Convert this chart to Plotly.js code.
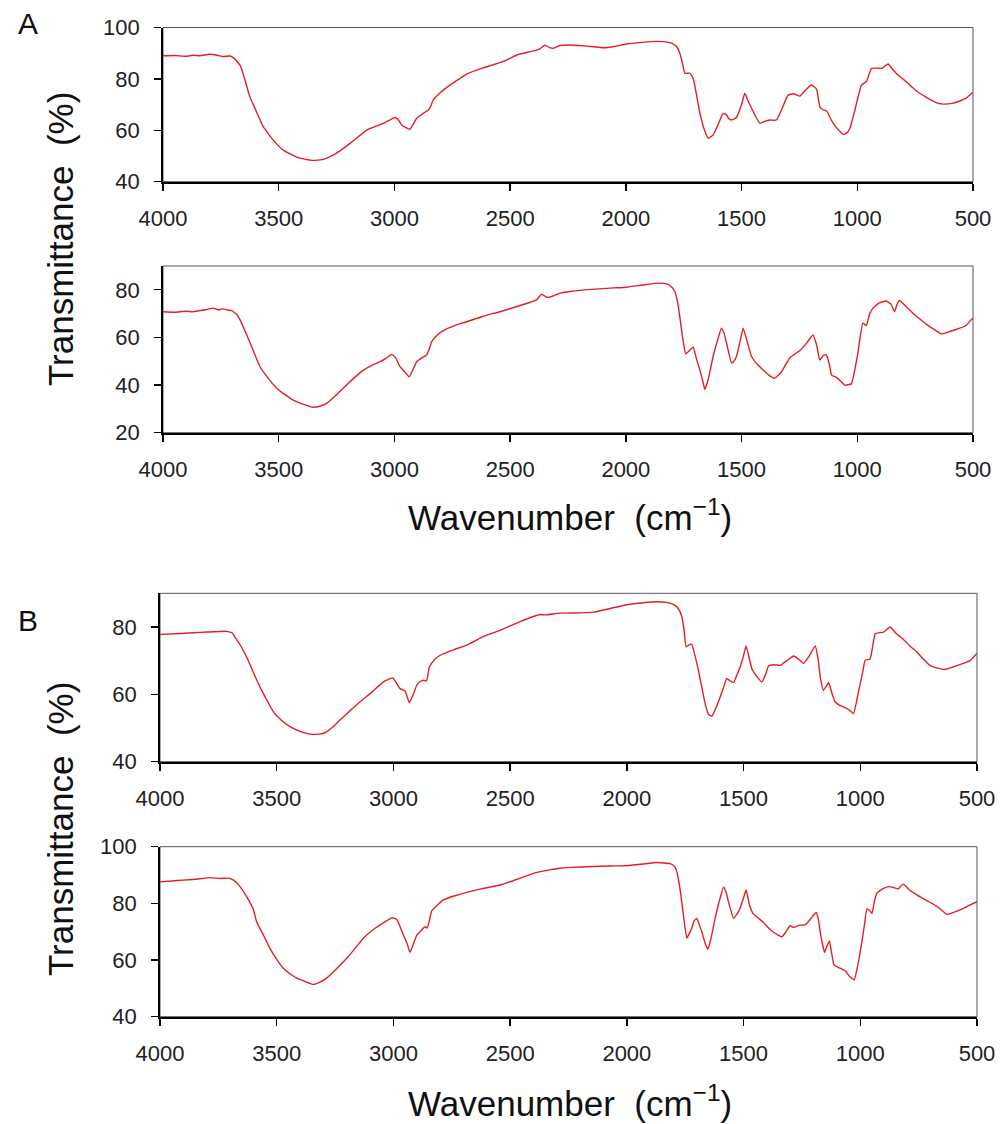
<!DOCTYPE html>
<html>
<head>
<meta charset="utf-8">
<script src="https://cdn.plot.ly/plotly-3.0.1.min.js"></script>
<style>html,body{margin:0;padding:0;background:#fff;}#chart{width:1006px;height:1124px;}</style>
</head>
<body>
<div id="chart"></div>
<script>
// ---------- data ----------
const wnA1 = [4000,3950,3900,3870,3840,3800,3770,3740,3710,3690,3665,3650,3625,3600,3567,3520,3480,3420,3365,3320,3279,3235,3192,3155,3120,3080,3048,3020,2998,2985,2969,2950,2933,2918,2904,2880,2854,2845,2832,2800,2760,2720,2688,2620,2544,2500,2472,2420,2386,2370,2350,2330,2314,2285,2242,2200,2140,2098,2050,1997,1930,1867,1820,1796,1780,1767,1755,1745,1723,1709,1695,1680,1660,1644,1623,1600,1580,1565,1555,1543,1522,1500,1486,1470,1457,1440,1421,1400,1378,1349,1325,1299,1275,1248,1225,1198,1176,1162,1148,1133,1118,1104,1080,1061,1045,1032,1010,982,960,939,915,895,867,845,824,800,773,740,701,660,629,590,557,530,506,500];
const tA1 = [89.0,89.1,88.8,89.2,89.0,89.6,89.3,88.7,88.9,87.8,85.0,80.9,73.1,68.0,61.4,55.8,52.3,49.5,48.4,48.5,49.7,52.0,54.9,57.6,60.1,61.6,62.7,64.0,65.0,64.3,62.1,61.0,60.4,62.5,64.7,66.3,67.9,69.0,71.8,74.8,77.6,80.0,81.9,84.2,86.3,88.0,89.3,90.5,91.2,91.8,93.1,92.2,91.9,93.0,93.2,93.0,92.5,92.1,92.6,93.6,94.2,94.6,94.3,93.6,92.5,90.0,86.0,82.2,82.2,80.2,74.0,66.6,60.0,56.9,58.2,62.5,66.6,66.0,64.5,64.0,65.0,70.0,74.4,71.0,68.6,65.5,62.7,63.5,64.0,64.0,68.5,73.7,74.2,73.3,75.5,77.6,76.0,69.2,68.0,67.6,65.0,62.7,60.0,58.4,59.0,60.8,68.0,77.6,79.0,84.1,84.2,84.1,85.8,83.5,81.5,79.8,77.6,75.0,72.8,70.8,70.2,70.5,71.4,72.5,74.4,74.6];

const wnA2 = [4000,3950,3900,3869,3830,3783,3760,3740,3720,3703,3680,3667,3638,3610,3581,3545,3509,3470,3437,3390,3350,3320,3292,3255,3221,3180,3134,3100,3062,3035,3012,2995,2976,2955,2936,2920,2904,2880,2861,2850,2839,2815,2789,2740,2688,2620,2544,2460,2386,2364,2345,2328,2285,2249,2150,2050,1997,1930,1867,1824,1800,1788,1777,1767,1755,1741,1725,1709,1695,1680,1665,1659,1645,1623,1605,1587,1575,1565,1543,1530,1522,1505,1493,1475,1457,1430,1407,1380,1356,1328,1310,1291,1270,1248,1220,1191,1175,1162,1145,1133,1120,1111,1090,1070,1054,1026,1000,976,961,946,932,905,875,855,839,828,817,790,760,730,701,670,637,600,557,530,506,500];
const tA2 = [70.8,70.6,71.0,70.8,71.4,72.3,71.6,72.0,71.5,71.3,69.5,67.4,61.0,54.5,47.7,42.8,38.7,35.8,33.7,31.8,30.7,31.2,32.4,35.5,38.7,42.5,46.3,48.2,49.8,51.3,52.9,51.5,47.7,45.5,43.5,46.5,49.8,51.5,52.6,55.0,58.2,61.0,62.9,65.0,66.6,68.8,70.8,73.3,75.8,78.2,77.0,76.9,78.6,79.2,80.2,80.8,81.1,82.0,82.8,82.5,81.0,79.2,75.0,68.7,60.0,53.1,54.5,55.9,51.0,46.3,40.5,38.2,42.0,52.0,58.5,63.9,61.5,57.6,49.2,50.5,52.0,59.0,63.9,58.0,52.0,48.5,46.3,44.0,42.9,45.5,48.5,51.5,53.0,54.5,57.5,61.0,56.5,50.5,52.6,52.6,48.5,44.2,43.2,41.5,40.0,40.5,52.0,66.0,65.0,70.0,72.3,74.5,75.3,74.0,70.8,74.0,75.5,73.0,70.2,67.8,65.5,63.5,61.5,62.5,63.9,65.0,67.6,68.0];

const wnB1 = [4000,3930,3857,3800,3714,3690,3679,3655,3629,3600,3572,3540,3514,3480,3443,3400,3357,3320,3293,3260,3229,3185,3143,3090,3043,3020,3003,2988,2972,2950,2932,2915,2900,2885,2872,2858,2846,2825,2800,2740,2686,2620,2543,2460,2372,2350,2286,2200,2143,2070,2000,1930,1872,1830,1800,1780,1764,1755,1746,1735,1722,1710,1700,1680,1665,1650,1636,1618,1600,1586,1572,1558,1543,1530,1515,1500,1489,1475,1465,1445,1422,1405,1393,1370,1343,1315,1286,1265,1243,1218,1193,1180,1170,1158,1145,1136,1120,1108,1090,1072,1050,1029,1010,990,979,958,945,936,900,872,845,815,790,758,730,700,670,636,600,558,530,504,500];
const tB1 = [77.8,78.0,78.3,78.5,78.7,78.2,77.0,74.5,71.1,66.5,62.2,58.0,54.8,52.3,50.4,49.0,48.2,48.2,48.6,50.3,52.4,55.2,57.8,60.8,63.7,64.5,64.9,63.5,61.7,61.0,57.5,60.0,62.7,63.8,64.2,64.0,68.1,70.2,71.6,73.3,74.6,77.0,79.0,81.5,83.7,83.6,84.1,84.2,84.4,85.5,86.6,87.2,87.5,87.3,86.7,85.5,83.0,79.0,74.1,74.6,74.9,72.0,69.2,62.5,57.3,54.0,53.5,56.0,59.3,62.0,64.7,64.0,63.5,65.5,68.1,71.5,74.4,70.5,67.7,65.5,63.7,66.0,68.4,68.8,68.6,70.0,71.4,70.5,69.2,71.5,74.4,70.0,64.5,61.2,62.5,63.5,60.0,57.8,56.8,56.3,55.5,54.3,60.0,66.5,70.1,70.5,75.0,78.0,78.5,80.0,78.0,76.3,74.5,72.6,70.5,68.5,67.8,67.4,68.2,69.2,70.0,71.9,72.0];

const wnB2 = [4000,3950,3900,3850,3786,3740,3707,3685,3665,3629,3600,3586,3555,3529,3500,3472,3440,3414,3380,3343,3315,3286,3250,3214,3170,3129,3090,3057,3030,3007,2986,2970,2957,2940,2929,2915,2900,2880,2865,2855,2846,2836,2810,2786,2740,2686,2620,2543,2470,2400,2330,2286,2243,2150,2070,2000,1930,1872,1815,1796,1786,1775,1765,1755,1743,1732,1722,1712,1700,1690,1679,1665,1653,1640,1622,1605,1586,1575,1565,1543,1530,1515,1500,1489,1475,1460,1440,1415,1395,1372,1336,1318,1301,1286,1260,1236,1210,1189,1180,1172,1163,1153,1145,1132,1122,1112,1090,1072,1062,1051,1040,1026,1010,993,982,972,960,950,940,929,900,879,855,836,829,815,790,758,720,686,650,629,600,572,536,500];
const tB2 = [87.6,87.9,88.2,88.5,89.1,88.8,88.9,88.2,86.7,82.4,77.8,73.5,68.5,64.1,60.2,57.1,55.0,53.6,52.5,51.4,52.2,53.6,56.4,59.4,63.5,67.7,70.5,72.4,73.8,74.9,74.4,71.5,68.8,65.5,62.7,65.5,68.8,70.5,71.8,71.3,74.0,77.3,79.5,81.2,82.6,83.9,85.2,86.5,88.5,90.6,91.8,92.4,92.7,93.0,93.2,93.3,93.9,94.4,94.0,93.0,91.2,86.5,80.6,74.0,67.7,69.5,71.2,73.8,74.7,72.5,70.0,66.0,63.8,67.5,74.7,80.5,85.7,84.0,80.6,74.7,76.0,78.3,82.0,84.7,79.5,76.5,75.0,73.3,71.5,69.8,68.2,70.0,72.1,71.5,72.3,72.4,74.8,76.8,74.5,70.0,66.0,62.7,64.5,66.7,62.0,58.2,57.2,56.5,56.0,54.7,53.8,52.9,58.5,66.5,72.5,78.0,77.5,76.5,80.5,83.6,85.3,85.9,85.5,85.1,85.9,86.8,84.8,83.0,81.2,79.7,77.5,76.1,76.8,77.7,79.2,80.6];

const xTicks = [4000,3500,3000,2500,2000,1500,1000,500];
const yTicksA1 = [40,60,80,100];
const yTicksA2 = [20,40,60,80];
const yTicksB1 = [40,60,80];
const yTicksB2 = [40,60,80,100];

const yTitle = 'Transmittance\u00a0\u00a0(%)';
const xTitle = 'Wavenumber\u00a0\u00a0(cm<sup>\u22121</sup>)';

// ---------- layout ----------
const W = 1006, H = 1124;
const FONT = 'Liberation Sans, Arial, sans-serif';
const px = v => v / W;
const py = v => 1 - v / H;

const lineStyle = {color: 'rgb(228,30,36)', width: 1.4, shape: 'spline', smoothing: 0.4};
const traces = [
  {x: wnA1, y: tA1, xaxis: 'x', yaxis: 'y'},
  {x: wnA2, y: tA2, xaxis: 'x2', yaxis: 'y2'},
  {x: wnB1, y: tB1, xaxis: 'x3', yaxis: 'y3'},
  {x: wnB2, y: tB2, xaxis: 'x4', yaxis: 'y4'}
].map(t => Object.assign(t, {type: 'scatter', mode: 'lines', line: lineStyle, hoverinfo: 'skip'}));

function xAxis(dom, anchor) {
  return {
    domain: dom, anchor: anchor, range: [4000, 500], tickvals: xTicks,
    showgrid: false, zeroline: false, showline: true, linecolor: '#000', linewidth: 1.8,
    ticks: 'outside', ticklen: 7, tickwidth: 1.3, tickcolor: '#000',
    ticklabelstandoff: 9,
    tickfont: {family: FONT, size: 22, color: '#222'}
  };
}
function yAxis(dom, anchor, range, ticks) {
  return {
    domain: dom, anchor: anchor, range: range, tickvals: ticks,
    showgrid: false, zeroline: false, showline: true, linecolor: '#000', linewidth: 1.8,
    ticks: 'outside', ticklen: 7, tickwidth: 1.3, tickcolor: '#000',
    ticklabelstandoff: 10,
    tickfont: {family: FONT, size: 22, color: '#222'}
  };
}

const domA = [px(163), px(973)];
const domB = [px(160), px(977)];
const layout = {
  width: W, height: H,
  margin: {l: 0, r: 0, t: 0, b: 0, pad: 0},
  paper_bgcolor: '#fff', plot_bgcolor: '#fff',
  showlegend: false,
  xaxis: xAxis(domA, 'y'),
  xaxis2: xAxis(domA, 'y2'),
  xaxis3: xAxis(domB, 'y3'),
  xaxis4: xAxis(domB, 'y4'),
  yaxis: yAxis([py(181.7), py(27.5)], 'x', [40, 100], yTicksA1),
  yaxis2: yAxis([py(432.7), py(266)], 'x2', [20, 90], yTicksA2),
  yaxis3: yAxis([py(761.7), py(593.3)], 'x3', [40, 90], yTicksB1),
  yaxis4: yAxis([py(1016.7), py(846.7)], 'x4', [40, 100], yTicksB2),
  shapes: ['', '2', '3', '4'].map(s => ({
    type: 'rect', xref: 'x' + s + ' domain', yref: 'y' + s + ' domain',
    x0: 0, x1: 1, y0: 0, y1: 1, line: {color: '#555', width: 1}, layer: 'below'
  })),
  annotations: [
    {text: 'A', x: px(27.5), y: py(23.5), xref: 'paper', yref: 'paper', xanchor: 'center', yanchor: 'middle', showarrow: false, font: {family: FONT, size: 30, color: '#111'}},
    {text: 'B', x: px(28), y: py(620.5), xref: 'paper', yref: 'paper', xanchor: 'center', yanchor: 'middle', showarrow: false, font: {family: FONT, size: 30, color: '#111'}},
    {text: yTitle, x: px(60), y: py(239), xref: 'paper', yref: 'paper', xanchor: 'center', yanchor: 'middle', textangle: -90, showarrow: false, font: {family: FONT, size: 35, color: '#111'}},
    {text: yTitle, x: px(60), y: py(829), xref: 'paper', yref: 'paper', xanchor: 'center', yanchor: 'middle', textangle: -90, showarrow: false, font: {family: FONT, size: 35, color: '#111'}},
    {text: xTitle, x: px(570), y: py(515), xref: 'paper', yref: 'paper', xanchor: 'center', yanchor: 'middle', showarrow: false, font: {family: FONT, size: 35, color: '#111'}},
    {text: xTitle, x: px(570), y: py(1101), xref: 'paper', yref: 'paper', xanchor: 'center', yanchor: 'middle', showarrow: false, font: {family: FONT, size: 35, color: '#111'}}
  ]
};

Plotly.newPlot('chart', traces, layout, {displayModeBar: false, staticPlot: true});
</script>
</body>
</html>
